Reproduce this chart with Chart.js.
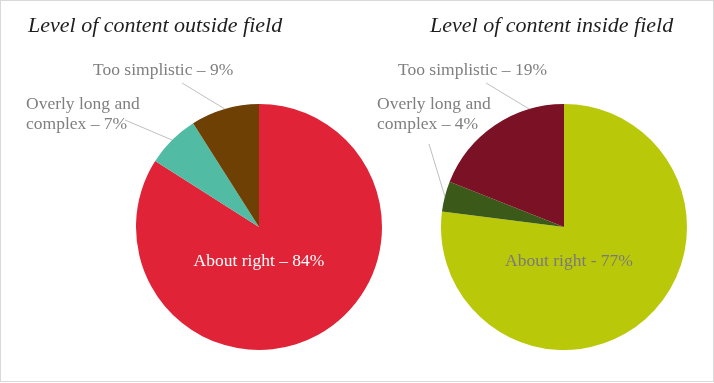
<!DOCTYPE html>
<html>
<head>
<meta charset="utf-8">
<script src="https://cdn.jsdelivr.net/npm/chart.js@4"></script>
<style>
  html, body { margin: 0; padding: 0; background: #fff; }
  #wrap { position: relative; width: 714px; height: 383px; overflow: hidden; }
  #frame { position: absolute; left: 0; top: 0; width: 714px; height: 382px; box-sizing: border-box; border: 1px solid #d9d9d9; }
  canvas { position: absolute; left: 0; top: 0; }
  .title { position: absolute; font-family: "Liberation Serif", serif; font-style: italic; font-size: 22px; color: #1e1e1e; white-space: nowrap; }
</style>
</head>
<body>
<div id="wrap">
  <div id="frame"></div>
  <canvas id="c1" width="714" height="383"></canvas>
  <canvas id="c2" width="714" height="383"></canvas>
  <div class="title" id="t1" style="left:28px; top:12px;">Level of content outside field</div>
  <div class="title" id="t2" style="left:430px; top:12px;">Level of content inside field</div>
</div>
<script>
// ---- data ----
const categoriesOutside = ["About right", "Overly long and complex", "Too simplistic"];
const valuesOutside = [84, 7, 9];
const categoriesInside = ["About right", "Overly long and complex", "Too simplistic"];
const valuesInside = [77, 4, 19];
const titleOutside = "Level of content outside field";
const titleInside = "Level of content inside field";

const colorsOutside = ["#E02336", "#52BBA4", "#6E4004"];
const colorsInside = ["#BAC80A", "#3B5A1A", "#7B1124"];

const FONT = '"Liberation Serif", serif';

// label layout (positions are layout, not data)
const labelsOutside = [
  { index: 0, inside: true, color: "#ffffff", text: v => "About right – " + v + "%", x: 259, y: 266 },
  { index: 1, color: "#7f7f7f", lines: v => ["Overly long and", "complex – " + v + "%"], x: 26, y: 109, lx: 125, ly: 120, frac: 0.5 },
  { index: 2, color: "#7f7f7f", lines: v => ["Too simplistic – " + v + "%"], x: 93, y: 75, lx: 182, ly: 83, frac: 0.5 }
];
const labelsInside = [
  { index: 0, inside: true, color: "#7a7a7a", text: v => "About right - " + v + "%", x: 569, y: 266 },
  { index: 1, color: "#7f7f7f", lines: v => ["Overly long and", "complex – " + v + "%"], x: 377, y: 109, lx: 429, ly: 144, frac: 0.5 },
  { index: 2, color: "#7f7f7f", lines: v => ["Too simplistic – " + v + "%"], x: 398, y: 75, lx: 486, ly: 83, frac: 0.76 }
];

const labelPlugin = {
  id: 'sliceLabels',
  afterDatasetsDraw(chart, args, opts) {
    const ctx = chart.ctx;
    const meta = chart.getDatasetMeta(0);
    const values = chart.data.datasets[0].data;
    ctx.save();
    ctx.font = "17.5px " + FONT;
    ctx.textBaseline = "alphabetic";
    opts.items.forEach(it => {
      const arc = meta.data[it.index];
      const v = values[it.index];
      if (it.inside) {
        ctx.fillStyle = it.color;
        ctx.textAlign = "center";
        ctx.fillText(it.text(v), it.x, it.y);
        return;
      }
      const p = arc.getProps(['x', 'y', 'startAngle', 'endAngle', 'outerRadius'], true);
      const a = p.startAngle + (p.endAngle - p.startAngle) * it.frac;
      const ex = p.x + Math.cos(a) * p.outerRadius;
      const ey = p.y + Math.sin(a) * p.outerRadius;
      ctx.strokeStyle = "#bfbfbf";
      ctx.lineWidth = 1;
      ctx.beginPath();
      ctx.moveTo(it.lx, it.ly);
      ctx.lineTo(ex, ey);
      ctx.stroke();
      ctx.fillStyle = it.color;
      ctx.textAlign = "left";
      it.lines(v).forEach((ln, i) => ctx.fillText(ln, it.x, it.y + i * 19.5));
    });
    ctx.restore();
  }
};

function makePie(id, cats, vals, cols, pad, items) {
  return new Chart(document.getElementById(id), {
    type: 'pie',
    data: {
      labels: cats,
      datasets: [{ data: vals, backgroundColor: cols, borderWidth: 0, hoverOffset: 0, offset: 0 }]
    },
    options: {
      responsive: false,
      animation: false,
      events: [],
      layout: { padding: pad },
      plugins: {
        legend: { display: false },
        tooltip: { enabled: false },
        title: { display: false },
        sliceLabels: { items: items }
      }
    },
    plugins: [labelPlugin]
  });
}

makePie('c1', categoriesOutside, valuesOutside, colorsOutside,
  { left: 136, right: 332, top: 104, bottom: 33 }, labelsOutside);
makePie('c2', categoriesInside, valuesInside, colorsInside,
  { left: 441, right: 27, top: 104, bottom: 33 }, labelsInside);
</script>
</body>
</html>
